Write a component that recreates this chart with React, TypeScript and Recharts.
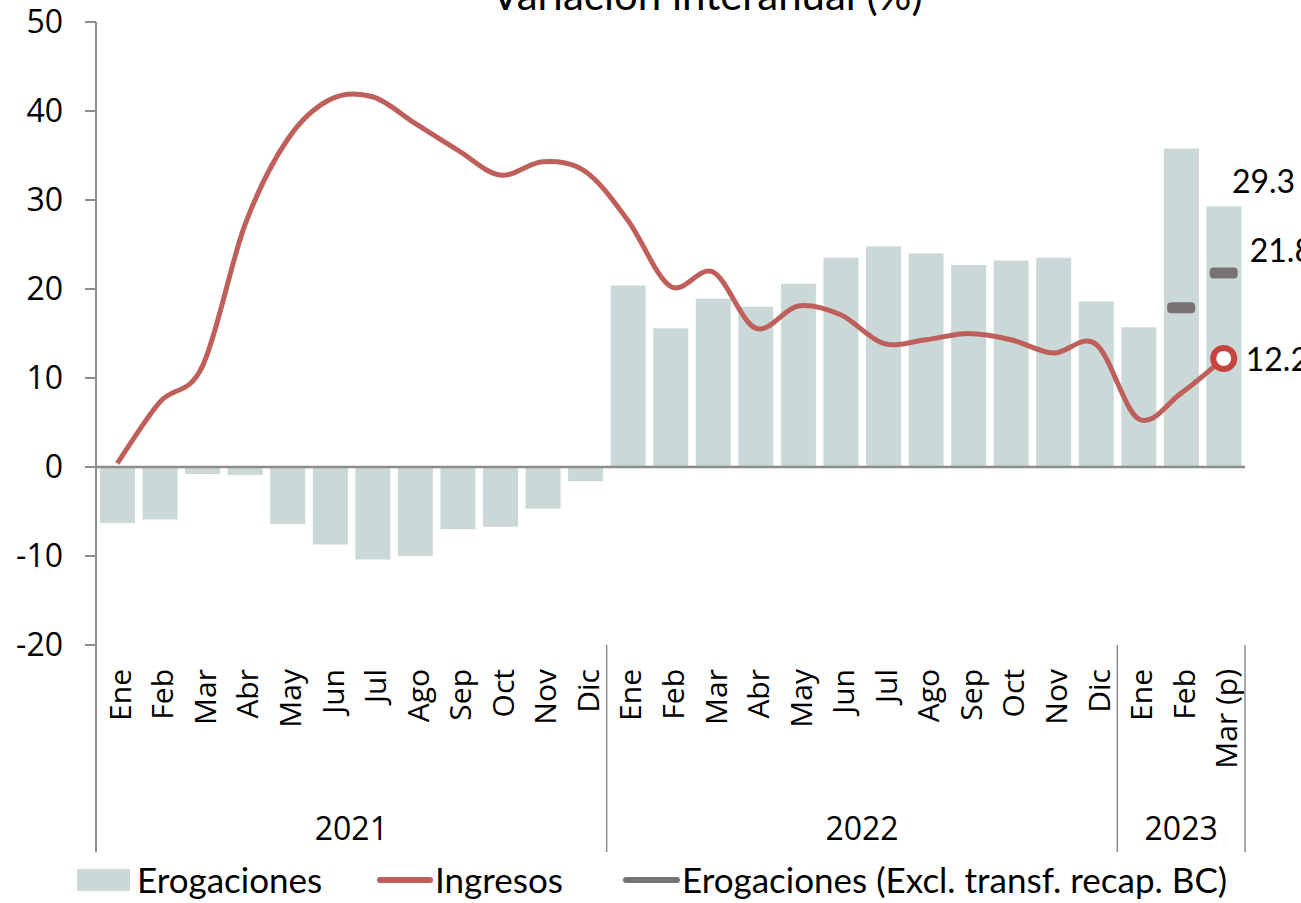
import { ComposedChart, Bar, Line, XAxis, YAxis, ReferenceLine, LabelList } from "recharts";

// Variación interanual (%), Ene 2021 - Mar 2023
const MESES = [
  "Ene", "Feb", "Mar", "Abr", "May", "Jun", "Jul", "Ago", "Sep", "Oct", "Nov", "Dic",
  "Ene", "Feb", "Mar", "Abr", "May", "Jun", "Jul", "Ago", "Sep", "Oct", "Nov", "Dic",
  "Ene", "Feb", "Mar (p)",
];
const ANIOS = ["2021", "2022", "2023"];
const MESES_POR_ANIO = [12, 12, 3];

const EROGACIONES = [
  -6.3, -5.9, -0.8, -0.9, -6.4, -8.7, -10.4, -10.0, -7.0, -6.7, -4.7, -1.6,
  20.4, 15.6, 18.9, 18.0, 20.6, 23.5, 24.8, 24.0, 22.7, 23.2, 23.5, 18.6,
  15.7, 35.8, 29.3,
];
const INGRESOS = [
  0.4, 7.3, 11.3, 27.2, 36.8, 41.3, 41.6, 38.6, 35.6, 32.8, 34.3, 33.2,
  27.7, 20.3, 21.9, 15.6, 18.1, 17.1, 13.9, 14.3, 15.0, 14.3, 12.8, 13.8,
  5.4, 8.3, 12.2,
];
const EROG_EXCL: (number | null)[] = [
  null, null, null, null, null, null, null, null, null, null, null, null,
  null, null, null, null, null, null, null, null, null, null, null, null,
  null, 17.9, 21.8,
];
const Y_TICKS = [-20, -10, 0, 10, 20, 30, 40, 50];

const COLORS = {
  bar: "#cad8d7",
  ingresos: "#be5f5b",
  marker: "#c8433d",
  excl: "#787272",
  axis: "#8c8c8c",
};

const W = 1301;
const H = 903;
const PLOT_L = 96;
const PLOT_R = 1245;
const PLOT_T = 22;
const PLOT_B = 645;
const BAND = (PLOT_R - PLOT_L) / MESES.length;
const LAST = MESES.length - 1;

const data = MESES.map((mes, i) => ({
  mes,
  erogaciones: EROGACIONES[i],
  ingresos: INGRESOS[i],
  excl: EROG_EXCL[i],
}));

// start index of each year group
const groupStarts = MESES_POR_ANIO.map((_, g) =>
  MESES_POR_ANIO.slice(0, g).reduce((a, b) => a + b, 0)
);

// Excel-like smoothed line (cubic bezier, 1/6 tension)
function smoothCurve(context: any) {
  let pts: number[][] = [];
  return {
    areaStart() {},
    areaEnd() {},
    lineStart() {
      pts = [];
    },
    point(x: number, y: number) {
      pts.push([x, y]);
    },
    lineEnd() {
      if (!pts.length) return;
      context.moveTo(pts[0][0], pts[0][1]);
      for (let i = 0; i < pts.length - 1; i++) {
        const p0 = pts[i - 1] || pts[i];
        const p1 = pts[i];
        const p2 = pts[i + 1];
        const p3 = pts[i + 2] || p2;
        context.bezierCurveTo(
          p1[0] + (p2[0] - p0[0]) / 6,
          p1[1] + (p2[1] - p0[1]) / 6,
          p2[0] - (p3[0] - p1[0]) / 6,
          p2[1] - (p3[1] - p1[1]) / 6,
          p2[0],
          p2[1]
        );
      }
    },
  };
}

function MonthTick(props: any) {
  const { x, payload, index } = props;
  const top = PLOT_B;
  const g = groupStarts.indexOf(index);
  return (
    <g>
      <text
        x={x}
        y={669}
        dy={13.5}
        transform={`rotate(-90, ${x}, 669)`}
        textAnchor="end"
        fontFamily="'Open Sans'"
        fontSize={30}
        fill="#000"
      >
        {payload.value}
      </text>
      {g >= 0 && (
        <>
          <line x1={x - BAND / 2} x2={x - BAND / 2} y1={top} y2={852} stroke={COLORS.axis} strokeWidth={g === 0 ? 2 : 1.5} />
          <text
            x={x - BAND / 2 + (MESES_POR_ANIO[g] * BAND) / 2}
            y={840}
            textAnchor="middle"
            fontFamily="'Open Sans'"
            fontSize={32}
            fill="#000"
          >
            {ANIOS[g]}
          </text>
        </>
      )}
      {index === LAST && (
        <line x1={x + BAND / 2} x2={x + BAND / 2} y1={top} y2={852} stroke={COLORS.axis} strokeWidth={1.5} />
      )}
    </g>
  );
}

const labelStyle = { fontFamily: "Lato", fontSize: 32, fill: "#000" };

function BarLabel(props: any) {
  const { x, y, width, value, index } = props;
  if (index !== LAST) return null;
  return (
    <text x={x + width / 2 + 8} y={y - 13} {...labelStyle}>
      {Number(value).toFixed(1)}
    </text>
  );
}

function IngresosLabel(props: any) {
  const { x, y, value, index } = props;
  if (index !== LAST) return null;
  return (
    <text x={x + 22} y={y + 13} {...labelStyle}>
      {Number(value).toFixed(1)}
    </text>
  );
}

function ExclLabel(props: any) {
  const { x, y, value, index } = props;
  if (index !== LAST || value == null) return null;
  return (
    <text x={x + 26} y={y - 11} {...labelStyle}>
      {Number(value).toFixed(1)}
    </text>
  );
}

function IngresosDot(props: any) {
  const { cx, cy, index } = props;
  if (index !== LAST) return <g key={`d${index}`} />;
  return <circle key={`d${index}`} cx={cx} cy={cy} r={10.5} fill="#fff" stroke={COLORS.marker} strokeWidth={6} />;
}

function ExclDot(props: any) {
  const { cx, cy, index, value } = props;
  if (value == null || cx == null || cy == null) return <g key={`e${index}`} />;
  return <rect key={`e${index}`} x={cx - 14} y={cy - 5.5} width={28} height={11} rx={4} fill={COLORS.excl} />;
}

const legendText = {
  fontFamily: "Lato",
  fontSize: 35,
  lineHeight: "35px",
  color: "#000",
  whiteSpace: "nowrap" as const,
};

export default function App() {
  return (
    <div style={{ position: "relative", width: W, height: H, background: "#fff", overflow: "hidden" }}>
      <style>{"body{margin:0}"}</style>
      <ComposedChart
        width={W}
        height={H}
        data={data}
        margin={{ top: PLOT_T, right: W - PLOT_R, bottom: 0, left: 0 }}
      >
        <XAxis
          dataKey="mes"
          interval={0}
          axisLine={false}
          tickLine={false}
          height={H - PLOT_B}
          tick={<MonthTick />}
        />
        <YAxis
          width={PLOT_L}
          domain={[-20, 50]}
          ticks={Y_TICKS}
          interval={0}
          allowDataOverflow
          stroke={COLORS.axis}
          axisLine={{ stroke: COLORS.axis, strokeWidth: 2 }}
          tickLine={{ stroke: COLORS.axis, strokeWidth: 2 }}
          tickSize={11}
          tickMargin={22}
          tick={{ fontFamily: "'Open Sans'", fontSize: 32, fill: "#000" }}
        />
        <Bar dataKey="erogaciones" fill={COLORS.bar} barSize={35} isAnimationActive={false}>
          <LabelList dataKey="erogaciones" content={<BarLabel />} />
        </Bar>
        <ReferenceLine y={0} stroke={COLORS.axis} strokeWidth={2.5} />
        <Line
          dataKey="ingresos"
          type={smoothCurve as any}
          stroke={COLORS.ingresos}
          strokeWidth={5}
          dot={IngresosDot}
          activeDot={false}
          isAnimationActive={false}
        >
          <LabelList dataKey="ingresos" content={<IngresosLabel />} />
        </Line>
        <Line
          dataKey="excl"
          stroke="none"
          strokeWidth={0}
          dot={ExclDot}
          activeDot={false}
          isAnimationActive={false}
        >
          <LabelList dataKey="excl" content={<ExclLabel />} />
        </Line>
      </ComposedChart>

      <div
        style={{
          position: "absolute",
          top: -27,
          left: 707,
          transform: "translateX(-50%)",
          fontFamily: "Lato",
          fontSize: 42,
          lineHeight: "42px",
          whiteSpace: "nowrap",
        }}
      >
        Variación interanual (%)
      </div>

      {/* Legend */}
      <div style={{ position: "absolute", top: 862, left: 77, display: "flex", alignItems: "center" }}>
        <div style={{ width: 53, height: 22, background: COLORS.bar, marginRight: 7 }} />
        <span style={legendText}>Erogaciones</span>
      </div>
      <div style={{ position: "absolute", top: 862, left: 377, display: "flex", alignItems: "center" }}>
        <div style={{ width: 56, height: 6, borderRadius: 3, background: COLORS.ingresos, marginRight: 2 }} />
        <span style={legendText}>Ingresos</span>
      </div>
      <div style={{ position: "absolute", top: 862, left: 623, display: "flex", alignItems: "center" }}>
        <div style={{ width: 57, height: 6, borderRadius: 3, background: COLORS.excl, marginRight: 2 }} />
        <span style={legendText}>Erogaciones (Excl. transf. recap. BC)</span>
      </div>
    </div>
  );
}
